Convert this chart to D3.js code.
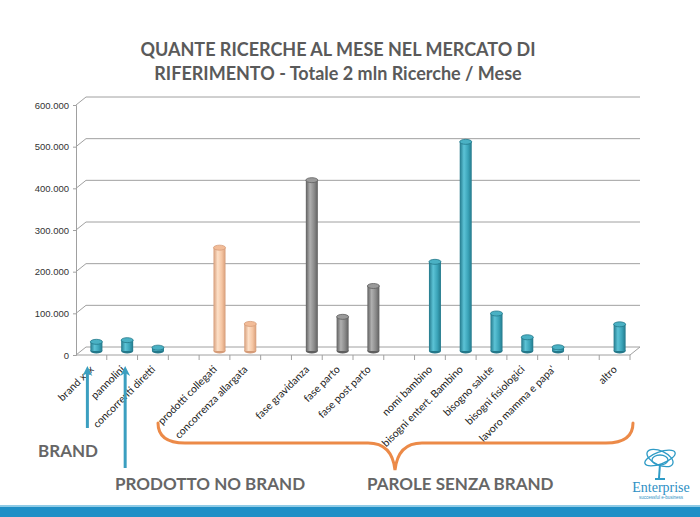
<!DOCTYPE html>
<html>
<head>
<meta charset="utf-8">
<script src="https://cdn.jsdelivr.net/npm/d3@7"></script>
<style>
  body { margin: 0; background: #ffffff; }
  svg { display: block; }
</style>
</head>
<body>
<svg id="chart"></svg>
<script>
// Chart data
const categories = ["brand xxx", "pannolini", "concorrenti diretti", "", "prodotti collegati",
    "concorrenza allargata", " ", "fase gravidanza", "fase parto", "fase post parto", "  ",
    "nomi bambino", "bisogni entert. Bambino", "bisogno salute", "bisogni fisiologici",
    "lavoro mamma e papa'", "   ", "altro"];
const values = [22000, 26000, 8000, null, 248000, 65000, null, 410000, 82000, 156000, null,
    214000, 502000, 90000, 33000, 9000, null, 64000];
const groups = ["teal", "teal", "teal", null, "peach", "peach", null, "gray", "gray", "gray", null,
    "teal", "teal", "teal", "teal", "teal", null, "teal"];
const yTicks = [0, 100000, 200000, 300000, 400000, 500000, 600000];
const titleLines = ["QUANTE RICERCHE AL MESE NEL MERCATO DI", "RIFERIMENTO - Totale 2 mln Ricerche / Mese"];

const W = 700, H = 517;
const svg = d3.select("#chart").attr("width", W).attr("height", H);

// 3D depth offset of the back wall
const depth = { dx: 10, dy: -8 };

const x = d3.scaleBand().domain(categories).range([76, 630]);
const y = d3.scaleLinear().domain([0, 600000]).range([355, 105]);

// Colour palettes for cylinders
const palette = {
    teal: { edge: "#23788a", light: "#5cc3d6", mid: "#3aa3b8", top: "#4ab1c4" },
    peach: { edge: "#d69c78", light: "#fde0c8", mid: "#f5c5a2", top: "#f2bc98" },
    gray: { edge: "#5f5f5f", light: "#b0b0b0", mid: "#8a8a8a", top: "#9a9a9a" }
};

const defs = svg.append("defs");
Object.entries(palette).forEach(([k, p]) => {
    const g = defs.append("linearGradient").attr("id", "grad-" + k)
        .attr("x1", "0%").attr("x2", "100%").attr("y1", "0%").attr("y2", "0%");
    g.append("stop").attr("offset", "0%").attr("stop-color", p.edge);
    g.append("stop").attr("offset", "35%").attr("stop-color", p.light);
    g.append("stop").attr("offset", "70%").attr("stop-color", p.mid);
    g.append("stop").attr("offset", "100%").attr("stop-color", p.edge);
});

// Title
svg.append("g").selectAll("text")
    .data(titleLines)
    .enter().append("text")
    .attr("x", 338)
    .attr("y", (d, i) => 56 + i * 24)
    .attr("text-anchor", "middle")
    .style("font-family", "Lato, 'Open Sans', sans-serif")
    .style("font-size", "18px")
    .style("font-weight", "bold")
    .style("fill", "#5a5a5a")
    .text(d => d);

// Gridlines on back wall with diagonal connectors
const grid = svg.append("g").attr("stroke", "#a0a0a0").attr("stroke-width", 1).attr("fill", "none");
yTicks.forEach(t => {
    grid.append("line")
        .attr("x1", x.range()[0]).attr("y1", y(t))
        .attr("x2", x.range()[0] + depth.dx).attr("y2", y(t) + depth.dy);
    grid.append("line")
        .attr("x1", x.range()[0] + depth.dx).attr("y1", y(t) + depth.dy)
        .attr("x2", x.range()[1] + depth.dx).attr("y2", y(t) + depth.dy);
});
// Floor front edge and right side
grid.append("line")
    .attr("x1", x.range()[0]).attr("y1", y(0))
    .attr("x2", x.range()[1]).attr("y2", y(0));
grid.append("line")
    .attr("x1", x.range()[1]).attr("y1", y(0))
    .attr("x2", x.range()[1] + depth.dx).attr("y2", y(0) + depth.dy);

// Y axis
const yAxis = svg.append("g")
    .attr("transform", `translate(${x.range()[0]},0)`)
    .call(d3.axisLeft(y).tickValues(yTicks).tickSize(3)
        .tickFormat(d => d === 0 ? "0" : d3.format(",")(d).replace(/,/g, ".")));
yAxis.select(".domain").attr("stroke", "#a0a0a0");
yAxis.selectAll(".tick line").attr("stroke", "#a0a0a0");
yAxis.selectAll("text")
    .attr("x", -7)
    .style("font-family", "'Liberation Sans', Arial, sans-serif")
    .style("font-size", "9.5px")
    .style("fill", "#333");

// X axis ticks at band boundaries
const xAxisG = svg.append("g").attr("stroke", "#a0a0a0");
categories.forEach((c, i) => {
    xAxisG.append("line")
        .attr("x1", x(c) + x.bandwidth()).attr("x2", x(c) + x.bandwidth())
        .attr("y1", y(0)).attr("y2", y(0) + 5);
});

// X labels rotated
svg.append("g").selectAll("text")
    .data(categories.filter(c => c.trim() !== ""))
    .enter().append("text")
    .attr("transform", d => `translate(${x(d) + x.bandwidth() / 2 + 3},${y(0) + 15}) rotate(-45)`)
    .attr("text-anchor", "end")
    .style("font-family", "Lato, 'Open Sans', sans-serif")
    .style("font-size", "10.5px")
    .style("fill", "#222")
    .text(d => d);

// Cylinders
const barW = 12, ry = 2.5;
const bars = svg.append("g");
categories.forEach((c, i) => {
    if (values[i] == null) return;
    const p = palette[groups[i]];
    const cx = x(c) + x.bandwidth() / 2 + depth.dx / 2;
    const yTop = y(values[i]) + depth.dy / 2;
    const yBase = y(0) + depth.dy / 2;
    const g = bars.append("g");
    g.append("ellipse")
        .attr("cx", cx).attr("cy", yBase)
        .attr("rx", barW / 2).attr("ry", ry)
        .attr("fill", p.edge);
    g.append("rect")
        .attr("x", cx - barW / 2).attr("y", yTop)
        .attr("width", barW).attr("height", yBase - yTop)
        .attr("fill", `url(#grad-${groups[i]})`);
    g.append("ellipse")
        .attr("cx", cx).attr("cy", yTop)
        .attr("rx", barW / 2).attr("ry", ry)
        .attr("fill", p.top)
        .attr("stroke", p.edge).attr("stroke-width", 0.8);
});

// Arrows for BRAND and PRODOTTO NO BRAND
const arrowColor = "#3b9fc0";
const arrows = [
    { cat: "brand xxx", dx: -4, bottom: 428 },
    { cat: "pannolini", dx: 3, bottom: 468 }
];
arrows.forEach(a => {
    const ax = x(a.cat) + x.bandwidth() / 2 + a.dx;
    svg.append("line")
        .attr("x1", ax).attr("x2", ax)
        .attr("y1", a.bottom).attr("y2", 372)
        .attr("stroke", arrowColor).attr("stroke-width", 3);
    svg.append("path")
        .attr("d", `M${ax - 5},376 L${ax},366 L${ax + 5},376 L${ax},373 Z`)
        .attr("fill", arrowColor);
});

// Orange curly brace
svg.append("path")
    .attr("d", "M158,423 Q158,443 185,443 L368,443 Q392,443 395,470 Q398,443 422,443 L606,443 Q633,443 633,423")
    .attr("fill", "none")
    .attr("stroke", "#ec8a48")
    .attr("stroke-width", 3)
    .attr("stroke-linecap", "round");

// Group labels
const groupLabels = [
    { text: "BRAND", x: 38, y: 457 },
    { text: "PRODOTTO NO BRAND", x: 115, y: 490 },
    { text: "PAROLE SENZA BRAND", x: 367, y: 490 }
];
svg.append("g").selectAll("text")
    .data(groupLabels)
    .enter().append("text")
    .attr("x", d => d.x).attr("y", d => d.y)
    .style("font-family", "Lato, 'Open Sans', sans-serif")
    .style("font-size", "17px")
    .style("font-weight", "bold")
    .style("fill", "#666")
    .text(d => d.text);

// Logo
const logo = svg.append("g").attr("fill", "none").attr("stroke", "#2e9bc6").attr("stroke-width", 1.3);
logo.append("ellipse").attr("cx", 660).attr("cy", 458).attr("rx", 16).attr("ry", 6).attr("transform", "rotate(-20,660,458)");
logo.append("ellipse").attr("cx", 660).attr("cy", 458).attr("rx", 14).attr("ry", 7).attr("transform", "rotate(25,660,458)");
logo.append("ellipse").attr("cx", 660).attr("cy", 460).attr("rx", 8).attr("ry", 5);
logo.append("path").attr("d", "M660,464 L659,478 M655,479 L665,479").attr("stroke-width", 2);
svg.append("text")
    .attr("x", 661).attr("y", 492)
    .attr("text-anchor", "middle")
    .style("font-family", "'Liberation Serif', 'DejaVu Serif', serif")
    .style("font-size", "14px")
    .style("fill", "#2e8fc4")
    .text("Enterprise");
svg.append("text")
    .attr("x", 661).attr("y", 499)
    .attr("text-anchor", "middle")
    .style("font-family", "'Liberation Sans', sans-serif")
    .style("font-size", "4.5px")
    .style("fill", "#2e8fc4")
    .text("successful e-business");

// Bottom band
svg.append("rect").attr("x", 0).attr("y", 505).attr("width", W).attr("height", 2).attr("fill", "#8fcbe6");
svg.append("rect").attr("x", 0).attr("y", 507).attr("width", W).attr("height", 10).attr("fill", "#1f8fc6");
</script>
</body>
</html>
